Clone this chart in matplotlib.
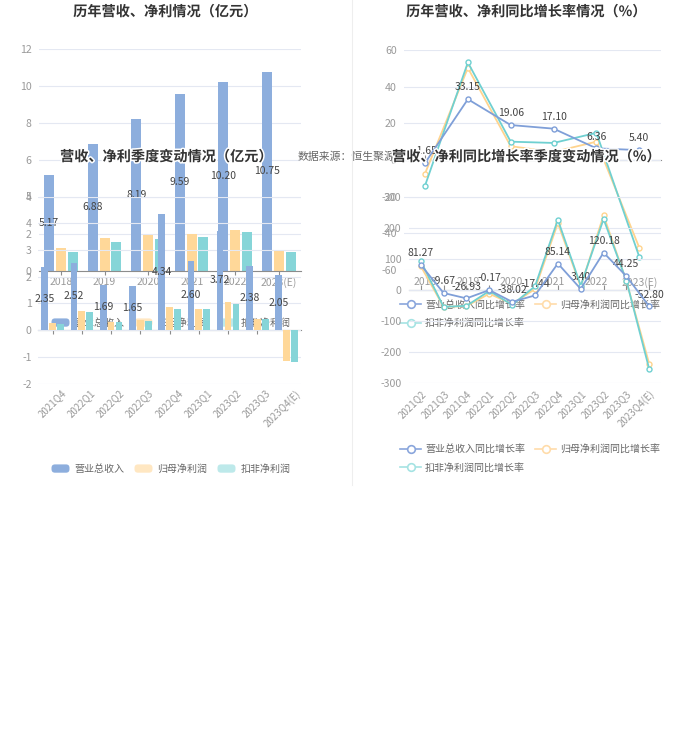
import matplotlib
matplotlib.use('Agg')
import matplotlib.pyplot as plt
import numpy as np
from matplotlib.patches import Patch, FancyBboxPatch
from matplotlib.lines import Line2D
from matplotlib.legend_handler import HandlerPatch
import matplotlib.patheffects as pe
import matplotlib.transforms as mtrans

plt.rcParams['font.family'] = ['Noto Sans CJK SC', 'DejaVu Sans']
plt.rcParams['axes.unicode_minus'] = False

# ---------------- data ----------------
years = ['2018', '2019', '2020', '2021', '2022', '2023(E)']
year_rev = [5.17, 6.88, 8.19, 9.59, 10.20, 10.75]
year_np = [1.21, 1.78, 1.93, 2.00, 2.20, 1.12]
year_dnp = [0.99, 1.53, 1.70, 1.84, 2.11, 0.99]

quarters = ['2021Q4', '2022Q1', '2022Q2', '2022Q3', '2022Q4',
            '2023Q1', '2023Q2', '2023Q3', '2023Q4(E)']
q_rev = [2.35, 2.52, 1.69, 1.65, 4.34, 2.60, 3.72, 2.38, 2.05]
q_np = [0.26, 0.71, 0.31, 0.37, 0.85, 0.79, 1.06, 0.42, -1.15]
q_dnp = [0.24, 0.67, 0.29, 0.33, 0.78, 0.78, 0.99, 0.42, -1.21]

year_rev_g = [-1.65, 33.15, 19.06, 17.10, 6.36, 5.40]
year_np_g = [-7.4, 50.2, 7.5, 4.4, 10.0, -47.8]
year_dnp_g = [-14.0, 53.2, 10.0, 9.3, 14.8, -52.8]

g_quarters = ['2021Q2', '2021Q3', '2021Q4', '2022Q1', '2022Q2', '2022Q3',
              '2022Q4', '2023Q1', '2023Q2', '2023Q3', '2023Q4(E)']
gq_rev = [81.27, -9.67, -26.93, -0.17, -38.02, -17.44, 85.14, 3.40, 120.18, 44.25, -52.80]
gq_np = [77, -54, -52, -12, -45, 3, 215, 11, 240, 28, -238]
gq_dnp = [93, -54, -51, -3, -48, 12, 226, 14, 228, 30, -255]

bar_names = ['营业总收入', '归母净利润', '扣非净利润']
line_names = ['营业总收入同比增长率', '归母净利润同比增长率', '扣非净利润同比增长率']

# ---------------- style ----------------
C_REV, C_NP, C_DNP = '#8daedd', '#ffd899', '#86d5d8'
C_NP_LEG, C_DNP_LEG = '#ffe7c2', '#bde9ea'
L_REV, L_NP, L_DNP = '#7f9fd8', '#ffd48e', '#6fd0d1'
GRID = '#e4e8f2'
AXIS = '#8c8c8c'
TICK = '#9a9a9a'
TXT = '#444444'

W, H = 700, 735
fig = plt.figure(figsize=(W / 100, H / 100), dpi=100)
fig.patch.set_facecolor('white')


def px_axes(l, t, r, b):
    return fig.add_axes([l / W, 1 - b / H, (r - l) / W, (b - t) / H])


def style(ax, ypad):
    ax.set_facecolor('none')
    for s in ax.spines.values():
        s.set_visible(False)
    ax.grid(axis='y', color=GRID, lw=0.8)
    ax.grid(axis='x', visible=False)
    ax.set_axisbelow(True)
    ax.tick_params(axis='y', length=0, labelsize=7.6, labelcolor=TICK, pad=ypad)


class RoundHandler(HandlerPatch):
    def create_artists(self, legend, orig_handle, xdescent, ydescent,
                       width, height, fontsize, trans):
        p = FancyBboxPatch((-xdescent, -ydescent), width, height,
                           boxstyle='round,pad=0,rounding_size=2.5',
                           facecolor=orig_handle.get_facecolor(),
                           edgecolor='none', transform=trans)
        return [p]


def title(ax, x, y, s):
    ax.text(x / W, 1 - y / H, s, transform=fig.transFigure, ha='center', va='center',
            fontsize=10.2, fontweight='bold', color='#333333',
            path_effects=[pe.withStroke(linewidth=2.2, foreground='white')])


def bar_legend(ax, cy):
    hs = [Patch(facecolor=C_REV), Patch(facecolor=C_NP_LEG), Patch(facecolor=C_DNP_LEG)]
    ax.legend(hs, bar_names, loc='center', bbox_to_anchor=(171 / W, 1 - cy / H),
              bbox_transform=fig.transFigure, ncol=3, frameon=False, fontsize=7.2,
              handlelength=1.8, handleheight=0.9, handletextpad=0.5, columnspacing=1.0,
              labelcolor='#666666', handler_map={Patch: RoundHandler()},
              borderpad=0, borderaxespad=0)


def line_legend(ax, cy):
    def h(c):
        return Line2D([], [], color=c, lw=1.2, marker='o', markersize=5.5,
                      markerfacecolor='white', markeredgewidth=1.2)
    hs = [h('#8aa6dc'), h('#a5e3e3'), h('#ffdcaa')]
    labs = [line_names[0], line_names[2], line_names[1]]
    ax.legend(hs, labs, loc='center', bbox_to_anchor=(530 / W, 1 - cy / H),
              bbox_transform=fig.transFigure, ncol=2, frameon=False, fontsize=7.2,
              handlelength=2.1, handletextpad=0.4, columnspacing=1.0, labelspacing=0.85,
              labelcolor='#666666', borderpad=0, borderaxespad=0)


OFF, BW = 0.27, 0.23

# ---------------- annual bars ----------------
ax1 = px_axes(39.2, 49, 300.6, 270.7)
style(ax1, 5.4)
x = np.arange(len(years))
ax1.bar(x - OFF, year_rev, BW, color=C_REV)
ax1.bar(x, year_np, BW, color=C_NP)
ax1.bar(x + OFF, year_dnp, BW, color=C_DNP)
for i, v in enumerate(year_rev):
    ax1.text(i - OFF, v / 2, f'{v:.2f}', ha='center', va='center', fontsize=7.5, color=TXT)
ax1.set_ylim(0, 12)
ax1.set_yticks(range(0, 13, 2))
ax1.set_xlim(-0.5, len(years) - 0.5)
ax1.set_xticks(x, years)
ax1.spines['bottom'].set_visible(True)
ax1.spines['bottom'].set_color(AXIS)
ax1.tick_params(axis='x', length=3, color=AXIS, labelsize=7.5, labelcolor=TICK, pad=1.5)
title(ax1, 165, 12, '历年营收、净利情况（亿元）')
bar_legend(ax1, 323)

# ---------------- annual growth lines ----------------
ax3 = px_axes(403.6, 50, 660.7, 270)
style(ax3, 5)
xa = np.arange(len(years))
mk = dict(marker='o', markersize=3.6, markerfacecolor='white', markeredgewidth=1.0, lw=1.3)
ax3.plot(xa, year_rev_g, color=L_REV, zorder=4, **mk)
ax3.plot(xa, year_np_g, color=L_NP, zorder=3, **mk)
ax3.plot(xa, year_dnp_g, color=L_DNP, zorder=3, **mk)
for i, v in enumerate(year_rev_g):
    ax3.annotate(f'{v:.2f}', (i, v), xytext=(0, 8.5), textcoords='offset points',
                 ha='center', va='center', fontsize=7.5, color=TXT)
ax3.set_ylim(-60, 60)
ax3.set_yticks(range(-60, 61, 20))
ax3.set_xlim(-0.5, len(years) - 0.5)
ax3.set_xticks(xa, years)
ax3.tick_params(axis='x', length=0, labelsize=7.5, labelcolor=TICK, pad=5)
sec3 = ax3.secondary_xaxis(0.5)
sec3.set_xticks(xa)
sec3.tick_params(axis='x', labelbottom=False, labeltop=False, length=3.5, color=AXIS)
for s in sec3.spines.values():
    s.set_color(AXIS)
title(ax3, 526, 12, '历年营收、净利同比增长率情况（%）')
line_legend(ax3, 314)

# ---------------- quarterly bars ----------------
ax2 = px_axes(38, 196.5, 301.1, 383.5)
style(ax2, 4.5)
xq = np.arange(len(quarters))
ax2.bar(xq - OFF, q_rev, BW, color=C_REV)
ax2.bar(xq, q_np, BW, color=C_NP)
ax2.bar(xq + OFF, q_dnp, BW, color=C_DNP)
for i, v in enumerate(q_rev):
    ax2.text(i - OFF, v / 2, f'{v:.2f}', ha='center', va='center', fontsize=7.5, color=TXT)
ax2.set_ylim(-2, 5)
ax2.set_yticks(range(-2, 6))
ax2.set_xlim(-0.5, len(quarters) - 0.5)
ax2.set_xticks(xq, quarters)
ax2.tick_params(axis='x', length=0, labelsize=7, labelcolor=TICK, pad=3.2)
shift = mtrans.ScaledTranslation(8 / 100, 0, fig.dpi_scale_trans)
for lab in ax2.get_xticklabels():
    lab.set_rotation(45)
    lab.set_ha('right')
    lab.set_rotation_mode('anchor')
    lab.set_transform(lab.get_transform() + shift)
sec2 = ax2.secondary_xaxis(2 / 7)
sec2.set_xticks(xq)
sec2.tick_params(axis='x', labelbottom=False, labeltop=False, length=3, color=AXIS)
for s in sec2.spines.values():
    s.set_color(AXIS)
title(ax2, 166, 157, '营收、净利季度变动情况（亿元）')
ax2.text(298 / W, 1 - 157 / H, '数据来源：恒生聚源', transform=fig.transFigure,
         ha='left', va='center', fontsize=7.8, color='#666666')
bar_legend(ax2, 469)

# ---------------- quarterly growth lines ----------------
ax4 = px_axes(409.3, 196.7, 660.7, 383.3)
style(ax4, 5.5)
xg = np.arange(len(g_quarters))
ax4.plot(xg, gq_rev, color=L_REV, zorder=4, **mk)
ax4.plot(xg, gq_np, color=L_NP, zorder=3, **mk)
ax4.plot(xg, gq_dnp, color=L_DNP, zorder=3, **mk)
for i, v in enumerate(gq_rev):
    ax4.annotate(f'{v:.2f}', (i, v), xytext=(0, 8.5), textcoords='offset points',
                 ha='center', va='center', fontsize=7.5, color=TXT)
ax4.set_ylim(-300, 300)
ax4.set_yticks(range(-300, 301, 100))
ax4.set_xlim(-0.5, len(g_quarters) - 0.5)
ax4.set_xticks(xg, g_quarters)
ax4.tick_params(axis='x', length=0, labelsize=7, labelcolor=TICK, pad=3.6)
for lab in ax4.get_xticklabels():
    lab.set_rotation(45)
    lab.set_ha('right')
    lab.set_rotation_mode('anchor')
sec4 = ax4.secondary_xaxis(0.5)
sec4.set_xticks(xg)
sec4.tick_params(axis='x', labelbottom=False, labeltop=False, length=3.5, color=AXIS)
for s in sec4.spines.values():
    s.set_color(AXIS)
title(ax4, 526, 157, '营收、净利同比增长率季度变动情况（%）')
line_legend(ax4, 458.5)

# divider
fig.add_artist(Line2D([352 / W, 352 / W], [1 - 0 / H, 1 - 485 / H], transform=fig.transFigure,
                      color='#eeeeee', lw=0.8))

fig.savefig('out.png', dpi=100)
